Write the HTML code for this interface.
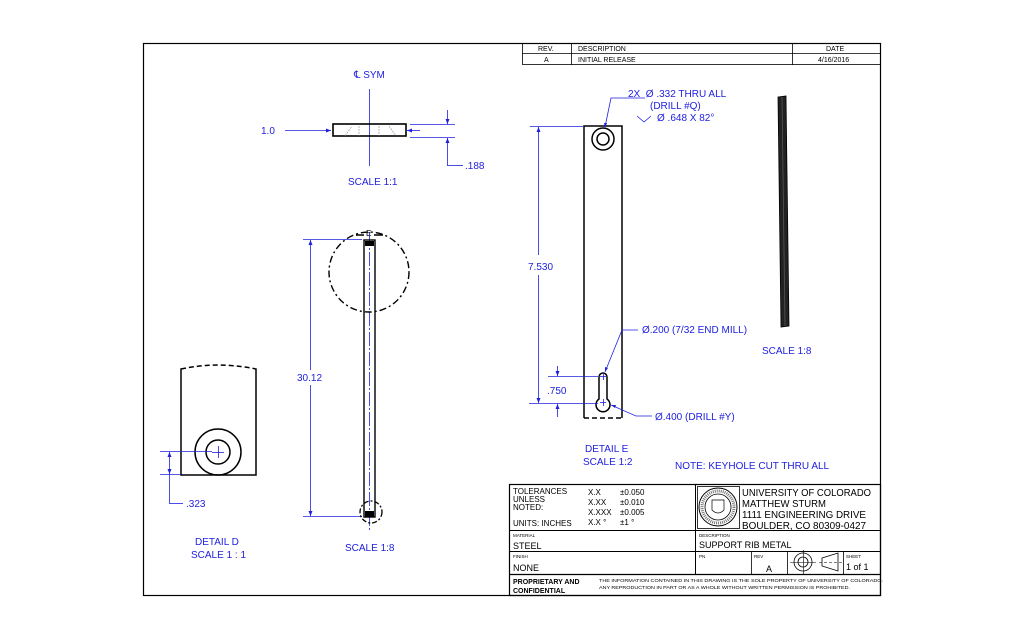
<!DOCTYPE html>
<html><head><meta charset="utf-8"><style>
html,body{margin:0;padding:0;background:#fff;}
svg{display:block;font-family:"Liberation Sans",sans-serif;}
.b{fill:#2020e0;font-size:10px;}
.k{fill:#000;font-size:7px;}
.t{fill:#000;}
</style></head><body>
<svg width="1024" height="639" viewBox="0 0 1024 639" xmlns="http://www.w3.org/2000/svg">
<rect width="1024" height="639" fill="#fff"/>
<rect x="143.5" y="43.5" width="737" height="552" fill="none" stroke="#000" stroke-width="1.2"/>
<g stroke="#000" stroke-width="0.8" fill="none">
<rect x="522.5" y="43.5" width="358" height="21"/>
<line x1="522" y1="53.5" x2="880" y2="53.5"/>
<line x1="571.5" y1="43" x2="571.5" y2="65"/>
<line x1="792.5" y1="43" x2="792.5" y2="65"/>
</g>
<g class="k" font-size="7">
<text x="538" y="51">REV.</text><text x="578" y="51">DESCRIPTION</text><text x="826" y="51">DATE</text>
<text x="544" y="62">A</text><text x="578" y="62">INITIAL RELEASE</text><text x="818" y="62">4/16/2016</text>
</g>

<g stroke="#2020e0" stroke-width="0.8" fill="none">
<line x1="369.5" y1="89" x2="369.5" y2="166"/>
<line x1="285" y1="130.5" x2="331" y2="130.5"/>
<line x1="407" y1="130.5" x2="420" y2="130.5"/>
<line x1="410" y1="124.5" x2="455" y2="124.5"/>
<line x1="410" y1="137.5" x2="455" y2="137.5"/>
<line x1="447.5" y1="110" x2="447.5" y2="124"/>
<line x1="447.5" y1="138" x2="447.5" y2="165.5"/>
<line x1="447" y1="165.5" x2="463" y2="165.5"/>
</g>
<path d="M331,130.5 l-5,-2 v4z M407,130.5 l5,-2 v4z M447.5,124 l-2,-5 h4z M447.5,138 l-2,5 h4z" fill="#2020e0"/>
<rect x="333" y="124" width="73" height="12" fill="none" stroke="#000" stroke-width="1.6"/>
<path d="M345,136 L352,126 M389,126 L396,136 M359,126 v10 M379,126 v10" stroke="#888" stroke-width="0.6" stroke-dasharray="2,1" fill="none"/>
<text class="b" x="354" y="78">℄ SYM</text>
<text class="b" x="261" y="134">1.0</text>
<text class="b" x="465" y="169">.188</text>
<text class="b" x="348" y="185">SCALE 1:1</text>

<g stroke="#2020e0" stroke-width="0.8" fill="none">
<line x1="303" y1="239.5" x2="362" y2="239.5"/>
<line x1="303" y1="516.5" x2="362" y2="516.5"/>
<line x1="310.5" y1="240" x2="310.5" y2="370"/>
<line x1="310.5" y1="385" x2="310.5" y2="516"/>
<line x1="369.5" y1="232" x2="369.5" y2="532" stroke-dasharray="14,2,2,2"/>
</g>
<path d="M310.5,240 l-2,5 h4z M310.5,516 l-2,-5 h4z" fill="#2020e0"/>
<rect x="364" y="240" width="11" height="277" fill="none" stroke="#000" stroke-width="1.4"/>
<rect x="365" y="241" width="9" height="5" fill="#000"/>
<rect x="365" y="511" width="9" height="6" fill="#000"/>
<circle cx="369" cy="272" r="40" fill="none" stroke="#000" stroke-width="1.4" stroke-dasharray="7,3,2,3"/>
<circle cx="371" cy="512" r="11" fill="none" stroke="#000" stroke-width="1.3" stroke-dasharray="5,2,2,2"/>
<path d="M356,235 h8 M374,235 h9" stroke="#000" stroke-width="1.5"/>
<text x="366" y="236" font-size="8" class="t">E</text>
<text class="b" x="297" y="381">30.12</text>
<text class="b" x="345" y="551">SCALE 1:8</text>

<path d="M181,475 V369 Q218,361 256,369 V475 Z" fill="none" stroke="#000" stroke-width="1.5"/>
<path d="M181,369 Q218,361 256,369" fill="none" stroke="#fff" stroke-width="2" stroke-dasharray="0,5,3,0"/>
<circle cx="218" cy="452" r="23" fill="none" stroke="#000" stroke-width="1.5"/>
<circle cx="218" cy="452" r="12" fill="none" stroke="#000" stroke-width="1.5"/>
<g stroke="#2020e0" stroke-width="0.8" fill="none">
<line x1="212" y1="452.5" x2="224" y2="452.5"/><line x1="218.5" y1="446" x2="218.5" y2="458"/>
<line x1="160" y1="451.5" x2="212" y2="451.5"/>
<line x1="160" y1="474.5" x2="181" y2="474.5"/>
<line x1="169.5" y1="452" x2="169.5" y2="503"/>
<line x1="169" y1="503.5" x2="183" y2="503.5"/>
</g>
<path d="M169.5,452 l-2,5 h4z M169.5,474 l-2,-5 h4z" fill="#2020e0"/>
<text class="b" x="186" y="507">.323</text>
<text class="b" x="195" y="545">DETAIL D</text>
<text class="b" x="191" y="558">SCALE 1 : 1</text>

<path d="M584,418 V126 H622 V418" fill="none" stroke="#000" stroke-width="1.5"/>
<line x1="584" y1="418" x2="622" y2="418" stroke="#000" stroke-width="1.5" stroke-dasharray="5,3"/>
<circle cx="603" cy="139" r="11" fill="none" stroke="#000" stroke-width="1.5"/>
<circle cx="603" cy="139" r="6" fill="none" stroke="#000" stroke-width="1.5"/>
<path d="M599,399 V377 A4,4 0 0 1 607,377 V399 A7,7 0 1 1 599,399 Z" fill="none" stroke="#000" stroke-width="1.5"/>
<g stroke="#2020e0" stroke-width="0.8" fill="none">
<line x1="530" y1="126.5" x2="583" y2="126.5"/>
<line x1="538.5" y1="127" x2="538.5" y2="255"/>
<line x1="538.5" y1="275" x2="538.5" y2="403"/>
<line x1="529" y1="403.5" x2="598" y2="403.5"/>
<line x1="548" y1="376.5" x2="598" y2="376.5"/>
<line x1="557.5" y1="366" x2="557.5" y2="376"/>
<line x1="557.5" y1="404" x2="557.5" y2="417"/>
<line x1="600" y1="402.5" x2="606" y2="402.5"/><line x1="603.5" y1="399" x2="603.5" y2="406"/>
<line x1="600" y1="376.5" x2="606" y2="376.5"/><line x1="603.5" y1="373" x2="603.5" y2="380"/>
<path d="M605,372 L622,330 H638"/>
<path d="M611,405 L636,416 H652"/>
<path d="M605,127 L611,98 H645"/>
<path d="M637,116 L644,122 L651,116"/>
</g>
<path d="M538.5,127 l-2,5 h4z M538.5,403 l-2,-5 h4z M557.5,376 l-2,-5 h4z M557.5,404 l-2,5 h4z M605,372 l0,-5 l3,1z M611,405 l4,3 l1,-3z M605,128 l-1,-5 l3,0z" fill="#2020e0"/>
<text class="b" x="528" y="270">7.530</text>
<text class="b" x="547" y="394">.750</text>
<text class="b" x="642" y="333">Ø.200 (7/32 END MILL)</text>
<text class="b" x="655" y="420">Ø.400 (DRILL #Y)</text>
<text class="b" x="628" y="97">2X &#160;Ø .332 THRU ALL</text>
<text class="b" x="650" y="109">(DRILL #Q)</text>
<text class="b" x="657" y="121">Ø .648 X 82°</text>
<text class="b" x="585" y="452">DETAIL E</text>
<text class="b" x="583" y="465">SCALE 1:2</text>
<text class="b" x="675" y="469">NOTE: KEYHOLE CUT THRU ALL</text>

<path d="M778,97 L786,96 L789,326 L781,327 Z" fill="#222" stroke="#000" stroke-width="0.8"/>
<line x1="782" y1="97" x2="785" y2="326" stroke="#555" stroke-width="0.8"/>
<text class="b" x="762" y="354">SCALE 1:8</text>

<g stroke="#000" fill="none">
<rect x="509.5" y="484.5" width="371" height="111" stroke-width="1.2"/>
<line x1="509" y1="530.5" x2="880" y2="530.5" stroke-width="1"/>
<line x1="509" y1="551.5" x2="880" y2="551.5" stroke-width="1"/>
<line x1="509" y1="574.5" x2="880" y2="574.5" stroke-width="1.2"/>
<line x1="695.5" y1="484" x2="695.5" y2="574" stroke-width="1"/>
<line x1="751.5" y1="551" x2="751.5" y2="574" stroke-width="0.8"/>
<line x1="787.5" y1="551" x2="787.5" y2="574" stroke-width="0.8"/>
<line x1="843.5" y1="551" x2="843.5" y2="574" stroke-width="0.8"/>
<rect x="697.5" y="486.5" width="42" height="42" stroke-width="0.8"/>
<circle cx="718" cy="507" r="19" stroke-width="1"/>
<circle cx="718" cy="507" r="13" stroke-width="0.8"/>
<circle cx="718" cy="507" r="16" stroke="#777" stroke-width="3" stroke-dasharray="1,1"/>
<path d="M712,500 h12 v10 q-6,6 -12,0z" stroke-width="0.7"/>
<circle cx="803" cy="562" r="9" stroke-width="0.8"/>
<circle cx="803" cy="562" r="5" stroke-width="0.8"/>
<path d="M790,562.5 h26 M803.5,550 v24" stroke-width="0.6"/>
<path d="M822,558 L838,553 V571 L822,566 Z" stroke-width="0.8"/>
<path d="M819,562.5 h23" stroke-width="0.6" stroke-dasharray="3,2"/>
</g>
<g class="t" font-size="8">
<text x="513" y="494">TOLERANCES</text>
<text x="513" y="502">UNLESS</text>
<text x="513" y="510">NOTED:</text>
<text x="513" y="526">UNITS: INCHES</text>
<text x="588" y="495">X.X</text><text x="620" y="495">±0.050</text>
<text x="588" y="505">X.XX</text><text x="620" y="505">±0.010</text>
<text x="588" y="515">X.XXX</text><text x="620" y="515">±0.005</text>
<text x="588" y="525">X.X °</text><text x="620" y="525">±1 °</text>
</g>
<g class="t" font-size="10">
<text x="742" y="496" textLength="129" lengthAdjust="spacingAndGlyphs">UNIVERSITY OF COLORADO</text>
<text x="742" y="507" textLength="84" lengthAdjust="spacingAndGlyphs">MATTHEW STURM</text>
<text x="742" y="518" textLength="124" lengthAdjust="spacingAndGlyphs">1111 ENGINEERING DRIVE</text>
<text x="742" y="529" textLength="124" lengthAdjust="spacingAndGlyphs">BOULDER, CO 80309-0427</text>
<text x="513" y="549" font-size="9">STEEL</text>
<text x="699" y="548" font-size="9">SUPPORT RIB METAL</text>
<text x="513" y="571" font-size="9">NONE</text>
<text x="766" y="572" font-size="9">A</text>
<text x="846" y="570" font-size="9">1 of 1</text>
</g>
<g class="t" font-size="4.5">
<text x="513" y="537">MATERIAL</text>
<text x="699" y="537">DESCRIPTION</text>
<text x="513" y="558">FINISH</text>
<text x="699" y="558">PN</text>
<text x="754" y="558">REV</text>
<text x="846" y="558">SHEET</text>
</g>
<text x="513" y="584" font-size="7" font-weight="bold" class="t">PROPRIETARY AND</text>
<text x="513" y="593" font-size="7" font-weight="bold" class="t">CONFIDENTIAL</text>
<text x="599" y="582" font-size="4.8" class="t" textLength="284" lengthAdjust="spacingAndGlyphs">THE INFORMATION CONTAINED IN THIS DRAWING IS THE SOLE PROPERTY OF UNIVERSITY OF COLORADO.</text>
<text x="599" y="589" font-size="4.8" class="t" textLength="251" lengthAdjust="spacingAndGlyphs">ANY REPRODUCTION IN PART OR AS A WHOLE WITHOUT WRITTEN PERMISSION IS PROHIBITED.</text>
</svg>
</body></html>
